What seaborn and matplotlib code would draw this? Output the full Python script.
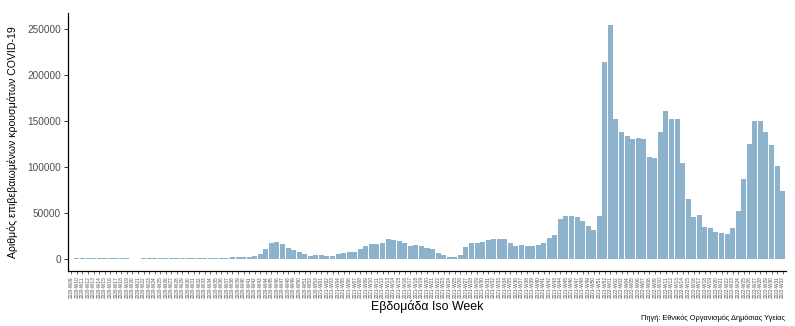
import matplotlib
matplotlib.use("Agg")
import matplotlib.pyplot as plt
import seaborn as sns
import pandas as pd

# ISO week labels: 2020-W09 .. 2022-W32
weeks_2020 = [f"2020-W{w:02d}" for w in range(9, 54)]
weeks_2021 = [f"2021-W{w:02d}" for w in range(1, 53)]
weeks_2022 = [f"2022-W{w:02d}" for w in range(1, 33)]
week_labels = weeks_2020 + weeks_2021 + weeks_2022

cases_2020 = [500, 600, 700, 800, 850, 800, 750, 650, 600, 550, 550, 500, 500, 550,
              600, 600, 600, 600, 650, 700, 650, 700, 750, 850,
              1200, 1300, 1100, 1200, 1400, 2200, 2200, 2300, 2000,
              3500, 5400, 10900, 17400, 18500, 16300, 12000, 9800, 7600,
              5100, 3300]
cases_2021 = [4300, 4300, 3300, 3300, 5400, 6900, 8000, 8000, 10900, 14100,
              16300, 16300, 17400, 21700, 20700, 19200, 17400, 14500, 15200,
              14100, 12000, 10500, 6900, 4300, 2200,
              2200, 4300, 13000, 17400, 17400, 18800, 20300, 21700, 21700,
              21700, 17400, 14500, 15200, 14500, 14500, 15200, 17400, 23200,
              26000, 43500, 46400, 46400, 45700, 41300, 36200, 31200, 47100,
              214500]
cases_2022 = [254300, 152000, 137700, 133300, 130400, 131900, 130400, 110900,
              109400, 137700, 160900, 152000, 152000, 104300, 65200, 45700,
              47800, 34800, 33300, 29700, 28300, 26800, 33300, 52200, 87000,
              125400, 150000, 150000, 137700, 123900, 101400, 73900]
cases = cases_2020 + cases_2021 + cases_2022

df = pd.DataFrame({"week": week_labels, "cases": cases})

sns.set_theme(style="ticks")
plt.rcParams["font.family"] = ["Liberation Sans", "DejaVu Sans"]

fig = plt.figure(figsize=(7.95, 3.26), dpi=100)
ax = fig.add_axes([68 / 795, 1 - 270.7 / 326, (786 - 68) / 795, (270.7 - 13.4) / 326])

sns.barplot(data=df, x="week", y="cases", color="#8DB3CC", saturation=1,
            width=0.9, ax=ax, linewidth=0, errorbar=None)

n = len(df)
ymax = max(cases)
ax.set_xlim(-0.6, n - 0.4)
ax.set_ylim(-0.05 * ymax, 1.05 * ymax)
ax.set_yticks([0, 50000, 100000, 150000, 200000, 250000])
ax.set_yticklabels(["0", "50000", "100000", "150000", "200000", "250000"])

for s in ["top", "right"]:
    ax.spines[s].set_visible(False)
for s in ["left", "bottom"]:
    ax.spines[s].set_color("black")
    ax.spines[s].set_linewidth(0.9)

ax.tick_params(axis="y", labelsize=7.2, labelcolor="#4D4D4D", length=3,
               width=0.7, color="#333333", pad=2)
ax.tick_params(axis="x", labelsize=3.4, labelcolor="#4D4D4D", length=2.5,
               width=0.5, color="#333333", pad=1.5, rotation=90)

ax.set_xlabel("Εβδομάδα Iso Week", fontsize=8.9, color="black")
ax.set_ylabel("Αριθμός επιβεβαιωμένων κρουσμάτων COVID-19", fontsize=7.6, color="black")
ax.xaxis.set_label_coords(0.5, -0.115)
ax.yaxis.set_label_coords(-0.070, 0.5)

fig.text(785 / 795, 1 - 318 / 326, "Πηγή: Εθνικός Οργανισμός Δημόσιας Υγείας",
         ha="right", va="center", fontsize=5.3, color="black")

fig.savefig("out.png", dpi=100)
